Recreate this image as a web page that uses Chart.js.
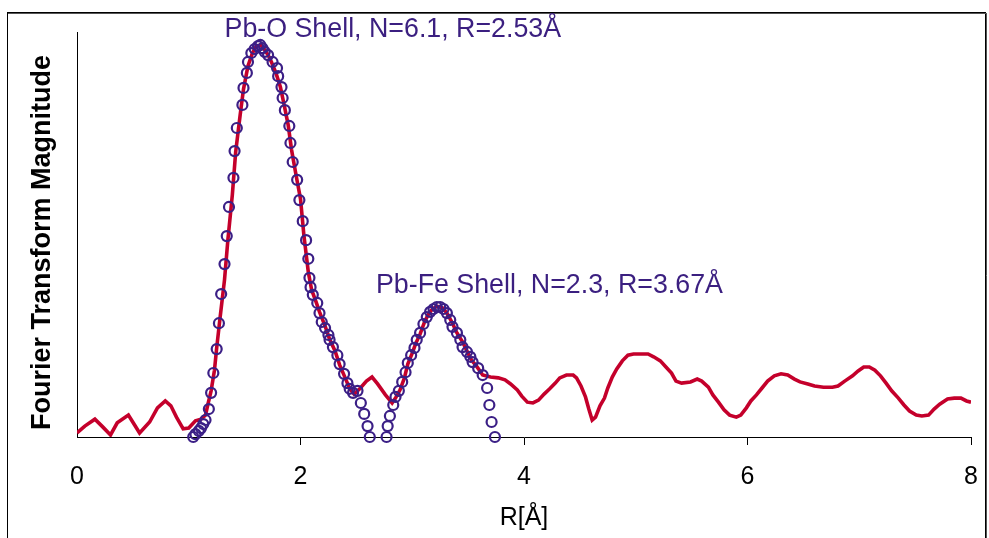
<!DOCTYPE html>
<html>
<head>
<meta charset="utf-8">
<script src="https://cdn.jsdelivr.net/npm/chart.js@4"></script>
<style>
html,body{margin:0;padding:0;background:#fff;}
#wrap{width:989px;height:538px;position:relative;}
</style>
</head>
<body>
<div id="wrap"><canvas id="c" width="989" height="538"></canvas></div>
<script>
// Experimental Fourier transform magnitude (red line)
const rExp = [0.00,0.07,0.16,0.23,0.30,0.36,0.46,0.51,0.56,0.65,0.72,0.79,0.84,0.89,0.95,1.00,1.06,1.11,1.15,1.17,1.20,1.23,1.25,1.28,1.32,1.35,1.39,1.42,1.46,1.49,1.53,1.57,1.60,1.64,1.67,1.71,1.74,1.78,1.82,1.85,1.89,1.92,1.96,2.00,2.03,2.07,2.10,2.14,2.17,2.22,2.26,2.31,2.35,2.40,2.44,2.48,2.53,2.59,2.64,2.69,2.76,2.82,2.85,2.89,2.93,2.96,3.00,3.03,3.07,3.11,3.14,3.18,3.22,3.27,3.31,3.36,3.40,3.45,3.49,3.53,3.58,3.63,3.70,3.77,3.83,3.88,3.94,3.98,4.03,4.08,4.13,4.18,4.23,4.28,4.32,4.38,4.44,4.47,4.51,4.55,4.58,4.61,4.64,4.68,4.72,4.75,4.79,4.83,4.88,4.93,4.98,5.05,5.11,5.16,5.22,5.27,5.32,5.36,5.41,5.49,5.55,5.59,5.65,5.69,5.74,5.79,5.84,5.90,5.94,5.99,6.03,6.08,6.13,6.18,6.24,6.30,6.36,6.42,6.47,6.54,6.60,6.68,6.76,6.81,6.87,6.94,6.99,7.04,7.09,7.14,7.19,7.24,7.29,7.35,7.40,7.45,7.51,7.56,7.62,7.67,7.72,7.79,7.85,7.91,7.96,8.00];
const magExp = [0.10,0.27,0.44,0.25,0.05,0.35,0.54,0.32,0.10,0.37,0.72,0.89,0.77,0.49,0.20,0.22,0.40,0.44,0.54,0.79,1.14,1.65,2.20,2.94,3.88,4.86,5.98,7.04,7.95,8.59,9.16,9.48,9.63,9.68,9.60,9.43,9.26,8.99,8.64,8.25,7.70,7.09,6.47,5.88,4.99,4.07,3.63,3.33,3.09,2.74,2.42,2.12,1.78,1.46,1.19,1.06,1.19,1.38,1.48,1.31,1.04,0.84,0.96,1.16,1.46,1.80,2.07,2.30,2.54,2.84,3.01,3.16,3.23,3.19,3.06,2.81,2.57,2.35,2.12,1.90,1.73,1.53,1.48,1.46,1.41,1.31,1.16,1.01,0.86,0.84,0.91,1.06,1.19,1.33,1.46,1.53,1.53,1.46,1.26,0.99,0.69,0.42,0.49,0.77,0.96,1.21,1.48,1.68,1.88,2.02,2.05,2.05,2.05,1.98,1.88,1.73,1.58,1.38,1.33,1.36,1.43,1.38,1.23,1.04,0.86,0.67,0.54,0.49,0.54,0.72,0.89,1.04,1.21,1.38,1.51,1.56,1.53,1.43,1.36,1.31,1.26,1.23,1.23,1.26,1.38,1.51,1.63,1.73,1.73,1.65,1.51,1.33,1.14,0.96,0.79,0.64,0.54,0.52,0.54,0.69,0.81,0.94,0.96,0.96,0.89,0.86];

// Shell fit (open circles)
const rFit = [1.04,1.06,1.09,1.11,1.13,1.15,1.18,1.20,1.22,1.25,1.27,1.29,1.32,1.34,1.36,1.40,1.41,1.43,1.48,1.49,1.52,1.53,1.56,1.59,1.62,1.64,1.66,1.68,1.71,1.75,1.79,1.80,1.83,1.84,1.86,1.90,1.91,1.93,1.97,1.99,2.02,2.05,2.07,2.08,2.09,2.11,2.15,2.17,2.19,2.22,2.25,2.26,2.29,2.33,2.35,2.39,2.42,2.44,2.47,2.51,2.54,2.57,2.60,2.62,2.77,2.78,2.80,2.83,2.85,2.88,2.91,2.94,2.96,2.99,3.02,3.04,3.07,3.10,3.13,3.16,3.19,3.22,3.25,3.28,3.31,3.34,3.36,3.40,3.43,3.45,3.49,3.52,3.54,3.59,3.63,3.67,3.69,3.71,3.74];
const magFit = [0.00,0.07,0.15,0.22,0.32,0.42,0.69,1.09,1.58,2.17,2.81,3.53,4.27,4.96,5.68,6.40,7.06,7.63,8.20,8.62,8.99,9.26,9.48,9.58,9.65,9.68,9.60,9.51,9.43,9.26,9.11,8.91,8.64,8.37,8.07,7.68,7.26,6.79,6.35,5.85,5.33,4.86,4.40,3.93,3.70,3.51,3.31,3.06,2.84,2.69,2.52,2.40,2.22,2.02,1.80,1.56,1.33,1.19,1.09,1.14,0.84,0.57,0.27,0.00,0.00,0.27,0.52,0.79,0.99,1.14,1.36,1.60,1.83,2.02,2.20,2.40,2.57,2.79,2.96,3.09,3.16,3.21,3.21,3.16,3.06,2.89,2.72,2.57,2.40,2.22,2.10,1.98,1.85,1.70,1.53,1.21,0.79,0.37,0.00];

const xTickValues = [0, 2, 4, 6, 8];
const shellLabels = ["Pb-O Shell, N=6.1, R=2.53Å", "Pb-Fe Shell, N=2.3, R=3.67Å"];
const shellLabelAt = [[1.32, 9.88], [2.675, 3.56]];
const xTitle = "R[Å]";
const yTitle = "Fourier Transform Magnitude";

const expPts = rExp.slice(0, Math.min(rExp.length, magExp.length)).map((r, i) => ({x: r, y: magExp[i]}));
const fitPts = rFit.slice(0, Math.min(rFit.length, magFit.length)).map((r, i) => ({x: r, y: magFit[i]}));

const FONT = "Arial, 'Liberation Sans', sans-serif";

const framePlugin = {
  id: 'frame',
  beforeDraw(chart) {
    const ctx = chart.ctx;
    ctx.save();
    ctx.fillStyle = '#fff';
    ctx.fillRect(0, 0, chart.width, chart.height);
    ctx.strokeStyle = '#000';
    ctx.lineWidth = 1;
    ctx.strokeRect(7.5, 12.5, 978, 560);
    ctx.strokeStyle = '#555';
    ctx.beginPath();
    ctx.moveTo(8, 13.5); ctx.lineTo(986, 13.5);
    ctx.moveTo(986.5, 13); ctx.lineTo(986.5, 538);
    ctx.stroke();
    ctx.restore();
  }
};

const labelPlugin = {
  id: 'shellLabels',
  afterDatasetsDraw(chart) {
    const ctx = chart.ctx;
    const xs = chart.scales.x, ys = chart.scales.y;
    ctx.save();
    ctx.font = "26.8px " + FONT;
    ctx.fillStyle = '#3b1f80';
    ctx.textAlign = 'left';
    ctx.textBaseline = 'alphabetic';
    shellLabels.forEach((t, i) => {
      ctx.fillText(t, xs.getPixelForValue(shellLabelAt[i][0]), ys.getPixelForValue(shellLabelAt[i][1]));
    });
    // y-axis title, rotated, centred slightly below the plot middle as in the reference
    ctx.font = "bold 27px " + FONT;
    ctx.fillStyle = '#000';
    ctx.textAlign = 'center';
    ctx.textBaseline = 'middle';
    ctx.translate(43, (ys.top + ys.bottom) / 2 + 8);
    ctx.rotate(-Math.PI / 2);
    ctx.fillText(yTitle, 0, 0);
    ctx.restore();
  }
};

new Chart(document.getElementById('c'), {
  type: 'scatter',
  data: {
    datasets: [
      {
        label: 'fit',
        data: fitPts,
        showLine: false,
        pointStyle: 'circle',
        pointRadius: 5,
        pointBorderWidth: 2.2,
        pointBorderColor: '#3b1f86',
        pointBackgroundColor: 'rgba(0,0,0,0)',
        clip: false,
        order: 0
      },
      {
        label: 'data',
        data: expPts,
        showLine: true,
        borderColor: '#c4002b',
        borderWidth: 3.6,
        pointRadius: 0,
        tension: 0,
        order: 1
      }
    ]
  },
  options: {
    responsive: false,
    animation: false,
    devicePixelRatio: 1,
    layout: { padding: { left: 0, top: 32, right: 18, bottom: 0 } },
    plugins: { legend: { display: false }, tooltip: { enabled: false } },
    scales: {
      x: {
        type: 'linear',
        min: 0, max: 8,
        afterBuildTicks(scale) { scale.ticks = xTickValues.map(v => ({value: v})); },
        afterFit(scale) { scale.height = 101; scale.paddingRight = 8; scale.paddingLeft = 8; },
        ticks: { color: '#000', font: { family: FONT, size: 25 }, padding: 17, maxRotation: 0 },
        grid: { drawOnChartArea: false, tickLength: 8, color: (c) => c.index === 0 ? 'rgba(0,0,0,0)' : '#000', lineWidth: 1 },
        border: { color: '#000', width: 1 },
        title: { display: true, text: xTitle, color: '#000', font: { family: FONT, size: 25, lineHeight: 1 }, padding: { top: 0, bottom: 7 } }
      },
      y: {
        type: 'linear',
        min: 0, max: 10,
        afterFit(scale) { scale.width = 77; },
        ticks: { display: false },
        grid: { display: false, drawTicks: false },
        border: { color: '#000', width: 1 },
        title: { display: false }
      }
    }
  },
  plugins: [framePlugin, labelPlugin]
});
</script>
</body>
</html>
